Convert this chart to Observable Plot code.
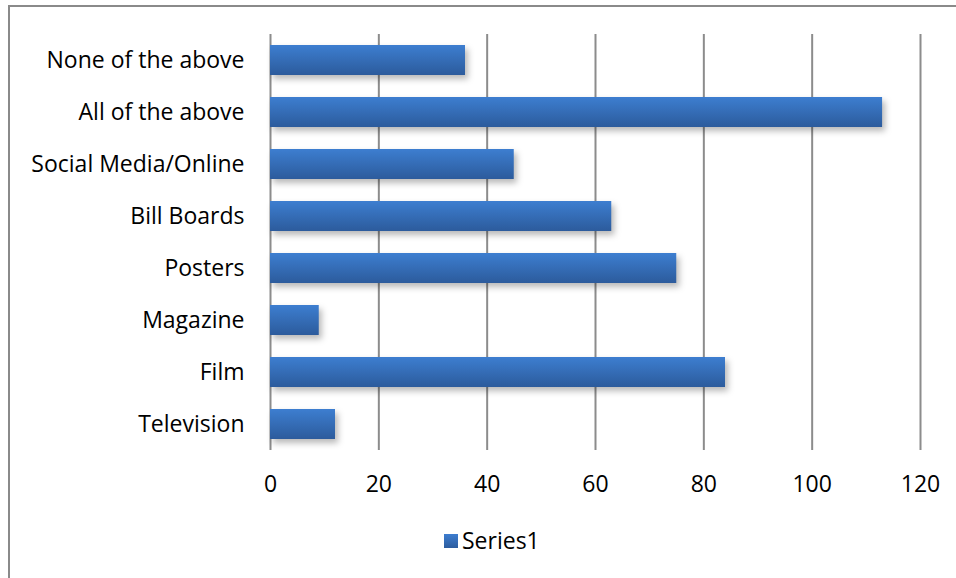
<!DOCTYPE html>
<html>
<head>
<meta charset="utf-8">
<script src="https://cdn.jsdelivr.net/npm/d3@7"></script>
<script src="https://cdn.jsdelivr.net/npm/@observablehq/plot@0.6"></script>
<style>
  html, body { margin: 0; padding: 0; background: #fff; }
  body { width: 956px; height: 578px; position: relative; overflow: hidden; font-family: "Open Sans", Lato, sans-serif; }
  #frame { position: absolute; left: 8px; top: 5px; right: -10px; bottom: -10px; border-left: 2px solid #8a8a8a; border-top: 2px solid #8a8a8a; pointer-events: none; }
  #chart svg { display: block; }
  #chart g[aria-label="bar"] rect { filter: drop-shadow(3px 4px 3px rgba(0,0,0,0.28)); }
  #legend { position: relative; height: 68px; font-family: "Open Sans", Lato, sans-serif; font-size: 23px; color: #000; }
  #legend .sw { position: absolute; left: 444px; top: 24px; width: 14px; height: 14px; background: linear-gradient(#3d7dcf, #2c5c9e); }
  #legend .lb { position: absolute; left: 462px; top: 16px; line-height: 28px; }
</style>
</head>
<body>
<div id="chart"></div>
<div id="legend"><div class="sw"></div><div class="lb">Series1</div></div>
<div id="frame"></div>
<script>
const categories = ["None of the above", "All of the above", "Social Media/Online", "Bill Boards", "Posters", "Magazine", "Film", "Television"];
const series1 = [36, 113, 45, 63, 75, 9, 84, 12];
const xTicks = [0, 20, 40, 60, 80, 100, 120];

const data = categories.map((c, i) => ({category: c, value: series1[i]}));

const chart = Plot.plot({
  width: 956,
  height: 510,
  marginLeft: 270,
  marginRight: 36,
  marginTop: 34,
  marginBottom: 60,
  style: {fontFamily: "'Open Sans', Lato, sans-serif", fontSize: "23px", color: "#000", background: "#fff", overflow: "visible"},
  x: {domain: [0, 120], ticks: xTicks, label: null},
  y: {domain: categories, paddingInner: 0.42, paddingOuter: 0.21, label: null},
  marks: [
    Plot.ruleX(xTicks, {stroke: "#8c8c8c", strokeWidth: 2, strokeOpacity: 1}),
    Plot.barX(data, {x: "value", y: "category", fill: "url(#barGrad)"}),
    Plot.axisX({ticks: xTicks, tickSize: 0, tickPadding: 25, label: null, fontSize: 23}),
    Plot.axisY({tickSize: 0, tickPadding: 26, label: null, fontSize: 23})
  ]
});

const defs = d3.select(chart).insert("defs", ":first-child");
const g = defs.append("linearGradient").attr("id", "barGrad").attr("x1", 0).attr("y1", 0).attr("x2", 0).attr("y2", 1);
g.append("stop").attr("offset", "0%").attr("stop-color", "#3d7ed0");
g.append("stop").attr("offset", "100%").attr("stop-color", "#2c5b9c");

document.getElementById("chart").appendChild(chart);
</script>
</body>
</html>
